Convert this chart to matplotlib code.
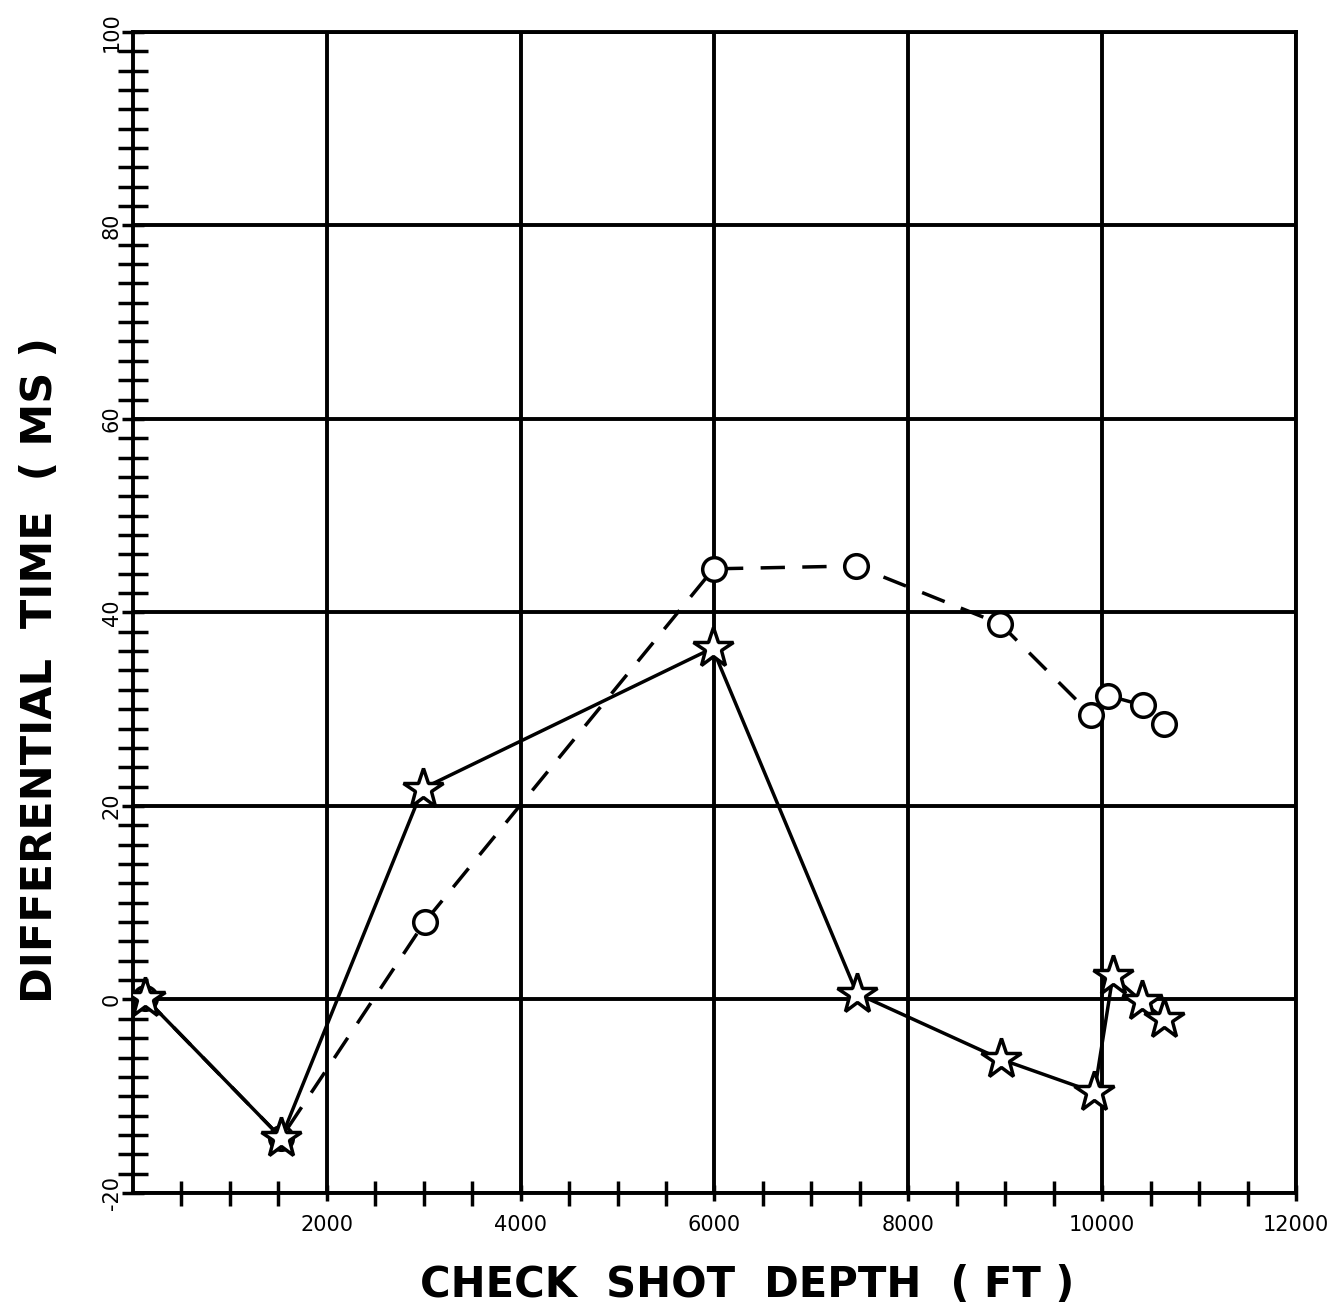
import matplotlib
matplotlib.use("Agg")
import matplotlib.pyplot as plt
import numpy as np

# check shot data
star_depth = [120, 1530, 2990, 5980, 7470, 8960, 9920, 10110, 10410, 10640]
star_time = [0.2, -14.3, 21.8, 36.3, 0.6, -6.2, -9.6, 2.4, -0.2, -2.0]

circ_depth = [120, 1530, 3010, 5990, 7460, 8950, 9890, 10060, 10420, 10640]
circ_time = [0.2, -14.3, 8.0, 44.5, 44.8, 38.8, 29.4, 31.4, 30.4, 28.5]

xticks = [2000, 4000, 6000, 8000, 10000, 12000]
yticks = [-20, 0, 20, 40, 60, 80, 100]

fig = plt.figure(figsize=(13.43, 13.15), dpi=100)
ax = fig.add_axes([0.099, 0.0928, 0.866, 0.883])

ax.plot(circ_depth, circ_time, color='black', lw=2.5, dashes=(7, 5),
        marker='o', ms=17, mfc='white', mec='black', mew=2.5, zorder=3)
ax.plot(star_depth, star_time, color='black', lw=2.5,
        marker='*', ms=30, mfc='white', mec='black', mew=2.5, zorder=4)

ax.set_xlim(0, 12000)
ax.set_ylim(-20, 100)
ax.set_xticks(xticks)
ax.set_yticks(yticks)
ax.set_xticks(np.arange(500, 12000, 500), minor=True)
ax.set_yticks(np.arange(-18, 100, 2), minor=True)
ax.grid(True, which='major', color='black', lw=2.8)
ax.tick_params(which='both', direction='inout', width=2.5, labelsize=15)
ax.tick_params(axis='x', which='major', length=12, pad=10)
ax.tick_params(axis='x', which='minor', length=18)
ax.tick_params(axis='y', which='major', length=16, pad=0)
ax.tick_params(axis='y', which='minor', length=22)
ax.set_xticklabels([str(v) for v in xticks])
ax.set_yticklabels([str(v) for v in yticks], rotation=90, va='center')
for s in ax.spines.values():
    s.set_linewidth(2.8)

ax.set_xlabel('CHECK  SHOT  DEPTH  ( FT )', fontsize=30, fontweight='bold')
ax.set_ylabel('DIFFERENTIAL  TIME  ( MS )', fontsize=31, fontweight='bold')
ax.xaxis.set_label_coords(0.528, -0.079)
ax.xaxis.label.set_va('center')
ax.yaxis.set_label_coords(-0.08, 0.45)
ax.yaxis.label.set_va('center')

fig.savefig('out.png', dpi=100)
